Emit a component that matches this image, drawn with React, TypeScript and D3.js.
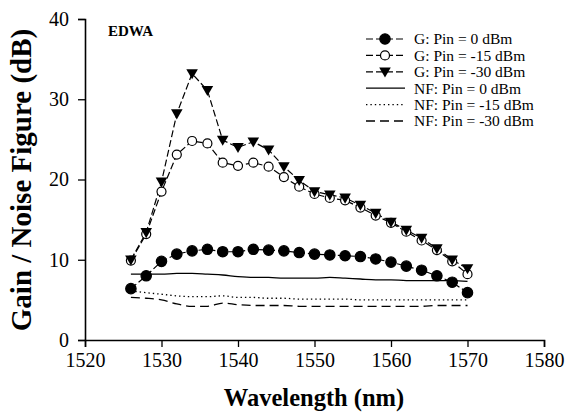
import React, { useRef, useEffect } from 'react';
import * as d3 from 'd3';

// wavelength grid (nm)
const wavelengths = [
  1526, 1528, 1530, 1532, 1534, 1536, 1538, 1540, 1542, 1544, 1546, 1548,
  1550, 1552, 1554, 1556, 1558, 1560, 1562, 1564, 1566, 1568, 1570,
];

// gain (dB)
const gain0 = [
  6.4, 8.0, 9.8, 10.7, 11.1, 11.3, 11.0, 11.0, 11.3, 11.2, 11.1, 10.9,
  10.7, 10.6, 10.5, 10.4, 10.1, 9.7, 9.2, 8.7, 8.0, 7.2, 5.9,
];
const gain15 = [
  9.9, 13.2, 18.5, 23.1, 24.8, 24.5, 22.1, 21.7, 22.1, 21.6, 20.3, 19.1,
  18.2, 17.7, 17.4, 16.5, 15.5, 14.6, 13.5, 12.4, 11.2, 9.8, 8.2,
];
const gain30 = [
  10.0, 13.4, 19.7, 28.2, 33.2, 31.1, 24.9, 24.0, 24.7, 23.7, 21.6, 19.9,
  18.5, 18.1, 17.7, 16.8, 15.8, 14.7, 13.7, 12.7, 11.4, 10.0, 8.9,
];

// noise figure (dB)
const nf0 = [
  8.2, 8.2, 8.2, 8.3, 8.3, 8.2, 8.1, 7.9, 7.8, 7.8, 7.7, 7.7,
  7.7, 7.8, 7.7, 7.6, 7.5, 7.5, 7.4, 7.4, 7.4, 7.4, 7.3,
];
const nf15 = [
  6.1, 5.9, 5.7, 5.5, 5.4, 5.4, 5.5, 5.3, 5.3, 5.2, 5.2, 5.1,
  5.1, 5.1, 5.1, 5.0, 5.0, 5.0, 5.0, 5.0, 5.0, 5.0, 5.0,
];
const nf30 = [
  5.3, 5.2, 5.0, 4.5, 4.2, 4.2, 4.6, 4.4, 4.3, 4.3, 4.3, 4.2,
  4.2, 4.2, 4.2, 4.2, 4.2, 4.2, 4.2, 4.2, 4.3, 4.3, 4.3,
];

const xTicks = [1520, 1530, 1540, 1550, 1560, 1570, 1580];
const yTicks = [0, 10, 20, 30, 40];

const legendLabels = [
  'G: Pin = 0 dBm',
  'G: Pin = -15 dBm',
  'G: Pin = -30 dBm',
  'NF: Pin = 0 dBm',
  'NF: Pin = -15 dBm',
  'NF: Pin = -30 dBm',
];

const FONT = 'Liberation Serif';

const App = () => {
  const svgRef = useRef<SVGSVGElement>(null);

  useEffect(() => {
    const svg = d3.select(svgRef.current);
    svg.selectAll('*').remove();

    const x = d3.scaleLinear().domain([1520, 1580]).range([85, 544]);
    const y = d3.scaleLinear().domain([0, 40]).range([340, 19]);

    // Axes
    const xAxis = svg.append('g').attr('transform', 'translate(0,340)');
    xAxis.call(
      d3.axisBottom(x).tickValues(d3.range(1520, 1580.1, 2.5)).tickSize(4).tickFormat(() => '')
    );
    xAxis.call(
      d3.axisBottom(x).tickValues(xTicks).tickSize(7).tickFormat(d3.format('d')).tickPadding(6)
    );
    xAxis.attr('font-family', FONT).attr('font-size', 20);
    xAxis.selectAll('path').attr('stroke-width', 1.6);
    xAxis.selectAll('line').attr('stroke-width', 1.3);

    const yAxis = svg.append('g').attr('transform', 'translate(85,0)');
    yAxis.call(
      d3.axisLeft(y).tickValues(d3.range(0, 40.1, 2.5)).tickSize(4).tickFormat(() => '')
    );
    yAxis.call(
      d3.axisLeft(y).tickValues(yTicks).tickSize(7).tickFormat(d3.format('d')).tickPadding(9)
    );
    yAxis.attr('font-family', FONT).attr('font-size', 20);
    yAxis.selectAll('path').attr('stroke-width', 1.6);
    yAxis.selectAll('line').attr('stroke-width', 1.3);

    const pts = (vals: number[]) => wavelengths.map((w, i) => [w, vals[i]] as [number, number]);

    const line = d3.line<[number, number]>().x(d => x(d[0])).y(d => y(d[1]));
    const nfLine = d3
      .line<[number, number]>()
      .x(d => x(d[0]))
      .y(d => y(d[1]))
      .curve(d3.curveMonotoneX);

    const plot = svg.append('g');

    // Noise figure curves
    const nfDash = [null, '1.4,3', '9,5'];
    [nf0, nf15, nf30].forEach((vals, i) => {
      plot
        .append('path')
        .attr('d', nfLine(pts(vals)))
        .attr('fill', 'none')
        .attr('stroke', '#000')
        .attr('stroke-width', 1.3)
        .attr('stroke-dasharray', nfDash[i]);
    });

    // Gain curves
    const tri = d3.symbol().type(d3.symbolTriangle).size(58);

    const gainSeries = [
      { vals: gain0, kind: 'filled' },
      { vals: gain15, kind: 'open' },
      { vals: gain30, kind: 'tri' },
    ];

    gainSeries.forEach(s => {
      plot
        .append('path')
        .attr('d', line(pts(s.vals)))
        .attr('fill', 'none')
        .attr('stroke', '#000')
        .attr('stroke-width', 1.2)
        .attr('stroke-dasharray', '7,3');
    });

    gainSeries.forEach(s => {
      const g = plot.append('g');
      const data = pts(s.vals);
      if (s.kind === 'tri') {
        g.selectAll('path')
          .data(data)
          .enter()
          .append('path')
          .attr('d', tri)
          .attr('transform', d => `translate(${x(d[0])},${y(d[1]) - 1}) rotate(180)`)
          .attr('fill', '#000');
      } else {
        g.selectAll('circle')
          .data(data)
          .enter()
          .append('circle')
          .attr('cx', d => x(d[0]))
          .attr('cy', d => y(d[1]))
          .attr('r', s.kind === 'filled' ? 5.2 : 4.5)
          .attr('fill', s.kind === 'filled' ? '#000' : '#fff')
          .attr('stroke', '#000')
          .attr('stroke-width', 1.2);
      }
    });

    // Legend
    const legend = svg.append('g').attr('font-family', FONT).attr('font-size', 15.5);
    const rowY = (i: number) => 39 + i * 16.4;
    legendLabels.forEach((label, i) => {
      const yy = rowY(i);
      const row = legend.append('g');
      if (i < 3) {
        row
          .append('line')
          .attr('x1', 366)
          .attr('x2', 405)
          .attr('y1', yy)
          .attr('y2', yy)
          .attr('stroke', '#000')
          .attr('stroke-width', 1.2)
          .attr('stroke-dasharray', '7,3');
        if (i === 2) {
          row
            .append('path')
            .attr('d', tri)
            .attr('transform', `translate(385,${yy - 1}) rotate(180)`)
            .attr('fill', '#000');
        } else {
          row
            .append('circle')
            .attr('cx', 385)
            .attr('cy', yy)
            .attr('r', i === 0 ? 5.2 : 4.5)
            .attr('fill', i === 0 ? '#000' : '#fff')
            .attr('stroke', '#000')
            .attr('stroke-width', 1.2);
        }
      } else {
        row
          .append('line')
          .attr('x1', 366)
          .attr('x2', 405)
          .attr('y1', yy)
          .attr('y2', yy)
          .attr('stroke', '#000')
          .attr('stroke-width', 1.3)
          .attr('stroke-dasharray', nfDash[i - 3]);
      }
      row
        .append('text')
        .attr('x', 414)
        .attr('y', yy)
        .attr('dy', '0.35em')
        .text(label);
    });

    // Titles
    svg
      .append('text')
      .attr('x', 108)
      .attr('y', 36)
      .attr('font-family', FONT)
      .attr('font-weight', 'bold')
      .attr('font-size', 15)
      .text('EDWA');

    svg
      .append('text')
      .attr('x', 314)
      .attr('y', 406)
      .attr('text-anchor', 'middle')
      .attr('font-family', FONT)
      .attr('font-weight', 'bold')
      .attr('font-size', 24.5)
      .text('Wavelength (nm)');

    svg
      .append('text')
      .attr('transform', 'translate(31,180) rotate(-90)')
      .attr('text-anchor', 'middle')
      .attr('font-family', FONT)
      .attr('font-weight', 'bold')
      .attr('font-size', 29)
      .text('Gain / Noise Figure (dB)');
  }, []);

  return (
    <svg
      ref={svgRef}
      width={567}
      height={414}
      style={{ position: 'fixed', left: 0, top: 0, background: '#fff' }}
    />
  );
};

export default App;
